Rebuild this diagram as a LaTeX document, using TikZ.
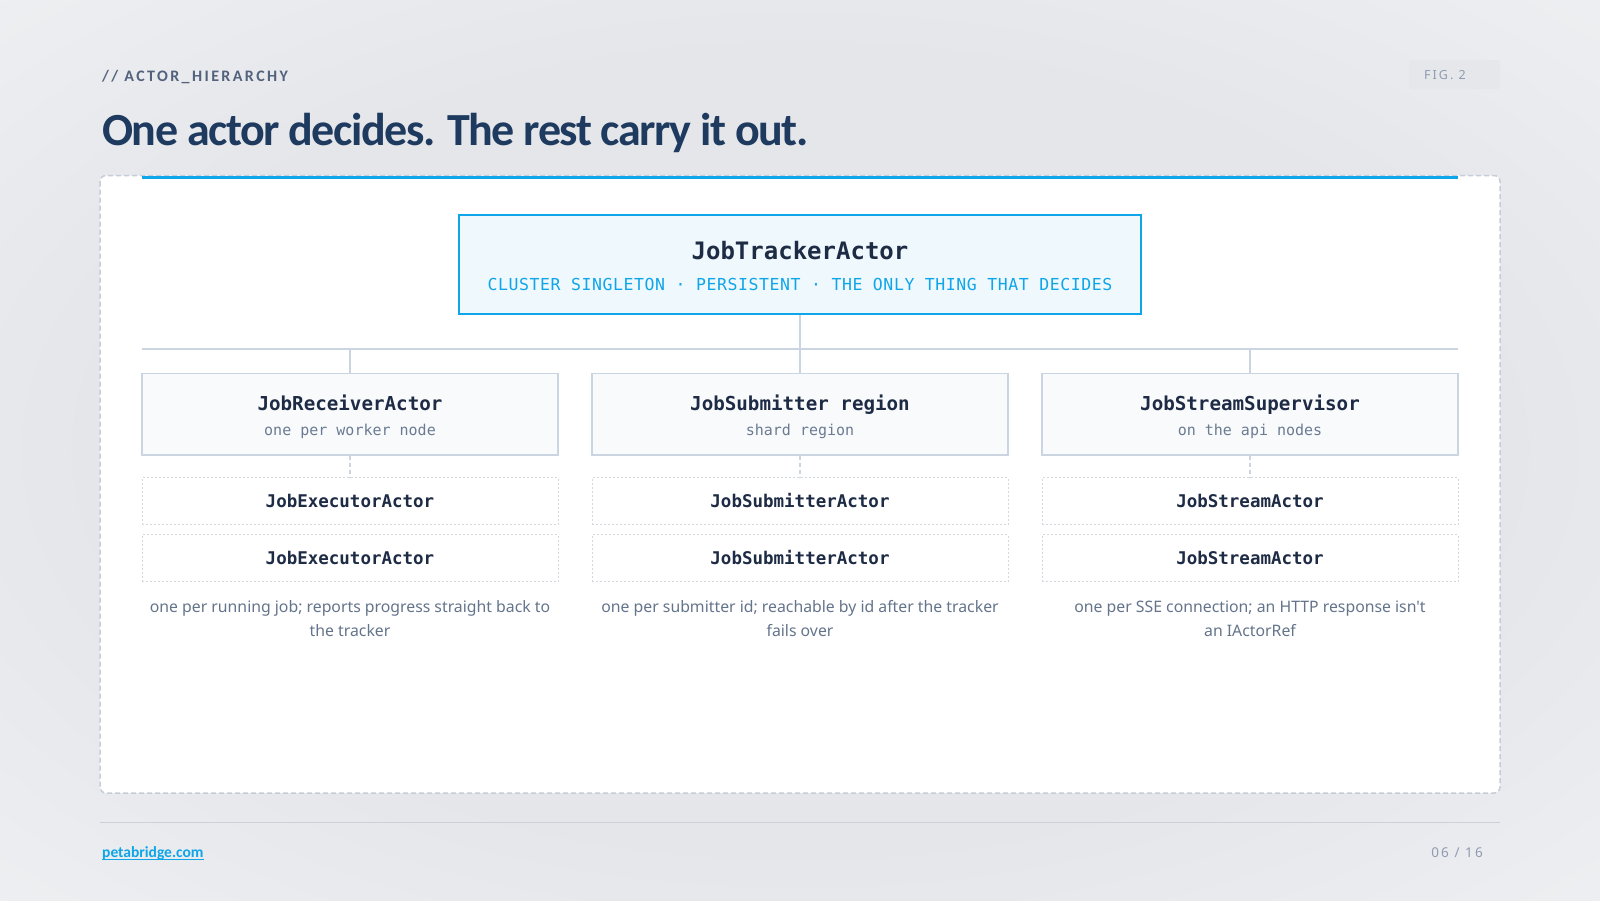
\documentclass[tikz,border=0pt]{standalone}
\usepackage{fontspec}
\setmainfont{Carlito}
\newfontfamily\headfont[LetterSpace=-3.2]{Carlito}
\newfontfamily\kickerfont[LetterSpace=15]{Carlito}
\newfontfamily\codefont{DejaVu Sans Mono}
\newfontfamily\codewide[LetterSpace=3.5]{DejaVu Sans Mono}
\newfontfamily\bodyfont[Ligatures=TeXOff]{Noto Sans}
\newfontfamily\metafont[LetterSpace=16]{Noto Sans}

\definecolor{bgmid}{HTML}{E4E6EA}
\definecolor{bgedge}{HTML}{F8F8F9}
\definecolor{navy}{HTML}{1E3A5F}
\definecolor{ink}{HTML}{1E2B45}
\definecolor{kicker}{HTML}{52627C}
\definecolor{sky}{HTML}{0EA5E9}
\definecolor{trackfill}{HTML}{EEF8FD}
\definecolor{rule}{HTML}{CBD5E1}
\definecolor{childfill}{HTML}{F9FAFB}
\definecolor{leafline}{HTML}{D3D8DF}
\definecolor{muted}{HTML}{6B7B93}
\definecolor{note}{HTML}{64748B}
\definecolor{badge}{HTML}{E5E7EB}
\definecolor{meta}{HTML}{8E9BB0}
\definecolor{panelline}{HTML}{C5CDD8}
\definecolor{footline}{HTML}{CBD0DA}

\pgfdeclareradialshading{slidebg}{\pgfpoint{0bp}{0bp}}{color(0bp)=(bgmid); color(22bp)=(bgmid); color(50bp)=(bgedge); color(72bp)=(bgedge)}

\begin{document}
\begin{tikzpicture}[x=1pt, y=-1pt,
    txt/.style={inner sep=0pt, anchor=base},
    childbox/.style={draw=rule, line width=1.5pt, fill=childfill, minimum width=416pt, minimum height=81.5pt, inner sep=0pt},
    leafbox/.style={draw=leafline, line width=1pt, dash pattern=on 2pt off 2pt, fill=white, minimum width=416pt, minimum height=47pt, inner sep=0pt},
    wire/.style={draw=rule, line width=1.5pt},
    childname/.style={txt, font=\codefont\bfseries\fontsize{19.2}{22}\selectfont, text=ink},
    childrole/.style={txt, font=\codefont\fontsize{15}{18}\selectfont, text=muted},
    leafname/.style={txt, font=\codefont\bfseries\fontsize{17.5}{20}\selectfont, text=ink},
    notetext/.style={txt, font=\bodyfont\fontsize{15.8}{19}\selectfont, text=note},
  ]
  % slide background
  \shade[shading=slidebg] (0,0) rectangle (1600,900);
  \useasboundingbox (0,0) rectangle (1600,900);

  % heading
  \node[txt, anchor=base west, font=\kickerfont\bfseries\fontsize{16}{19}\selectfont, text=kicker] (kicker) at (102,81) {// ACTOR\_HIERARCHY};
  \node[txt, anchor=base west, font=\headfont\bfseries\fontsize{46}{52}\selectfont, text=navy] (headline) at (102,145) {One actor decides. The rest carry it out.};
  \node[fill=badge, rounded corners=3pt, minimum width=91pt, minimum height=29pt, inner sep=0pt] (figbox) at (1454.5,74.5) {};
  \node[txt, anchor=base west, font=\metafont\fontsize{12.5}{14}\selectfont, text=meta] (fig) at (1424,79.5) {FIG. 2};

  % panel
  \draw[panelline, fill=white, line width=1.5pt, dash pattern=on 5pt off 3pt, rounded corners=6pt] (100,175.5) rectangle (1500,793);
  \draw[sky, line width=3pt] (142,177) -- (1458,177);

  % the tracker
  \node[draw=sky, line width=1.5pt, fill=trackfill, minimum width=682pt, minimum height=99pt] (tracker) at (800,264.5) {};
  \node[txt, font=\codefont\bfseries\fontsize{24}{28}\selectfont, text=ink] (trackername) at (800,259.5) {JobTrackerActor};
  \node[txt, font=\codewide\fontsize{16.5}{20}\selectfont, text=sky] (trackerrole) at (800,290.5) {CLUSTER SINGLETON · PERSISTENT · THE ONLY THING THAT DECIDES};

  % bus
  \coordinate (busL) at (142,349);
  \coordinate (busR) at (1458,349);
  \draw[wire] (busL) -- (busR);
  \draw[wire] (tracker.south) -- (tracker.south |- busL);

  % receiver column
  \node[childbox] (receiver) at (350,414.25) {};
  \node[childname] (receivername) at (350,410.5) {JobReceiverActor};
  \node[childrole] (receiverrole) at (350,435) {one per worker node};
  \node[leafbox] (exec1) at (350,501) {};
  \node[leafbox] (exec2) at (350,558) {};
  \node[leafname] (exec1name) at (350,507) {JobExecutorActor};
  \node[leafname] (exec2name) at (350,564) {JobExecutorActor};
  \node[notetext] (receivernote1) at (350,612.5) {one per running job; reports progress straight back to};
  \node[notetext] (receivernote2) at (350,636.5) {the tracker};

  % submitter column
  \node[childbox] (submitter) at (800,414.25) {};
  \node[childname] (submittername) at (800,410.5) {JobSubmitter region};
  \node[childrole] (submitterrole) at (800,435) {shard region};
  \node[leafbox] (sub1) at (800,501) {};
  \node[leafbox] (sub2) at (800,558) {};
  \node[leafname] (sub1name) at (800,507) {JobSubmitterActor};
  \node[leafname] (sub2name) at (800,564) {JobSubmitterActor};
  \node[notetext] (submitternote1) at (800,612.5) {one per submitter id; reachable by id after the tracker};
  \node[notetext] (submitternote2) at (800,636.5) {fails over};

  % stream column
  \node[childbox] (streamsup) at (1250,414.25) {};
  \node[childname] (streamsupname) at (1250,410.5) {JobStreamSupervisor};
  \node[childrole] (streamsuprole) at (1250,435) {on the api nodes};
  \node[leafbox] (stream1) at (1250,501) {};
  \node[leafbox] (stream2) at (1250,558) {};
  \node[leafname] (stream1name) at (1250,507) {JobStreamActor};
  \node[leafname] (stream2name) at (1250,564) {JobStreamActor};
  \node[notetext] (streamnote1) at (1250,612.5) {one per SSE connection; an HTTP response isn't};
  \node[notetext] (streamnote2) at (1250,636.5) {an IActorRef};

  % links
  \draw[wire] (receiver.north) -- (receiver.north |- busL);
  \draw[wire] (submitter.north) -- (submitter.north |- busL);
  \draw[wire] (streamsup.north) -- (streamsup.north |- busL);
  \draw[wire, dash pattern=on 4pt off 3pt] (receiver.south) -- (exec1.north);
  \draw[wire, dash pattern=on 4pt off 3pt] (submitter.south) -- (sub1.north);
  \draw[wire, dash pattern=on 4pt off 3pt] (streamsup.south) -- (stream1.north);

  % footer
  \draw[footline, line width=1.2pt] (100,822.5) -- (1500,822.5);
  \node[txt, anchor=base west, font=\bfseries\fontsize{15.5}{18}\selectfont, text=sky] (site) at (102,857) {petabridge.com};
  \draw[sky, line width=1pt] ([yshift=-2pt]site.base west) -- ([yshift=-2pt]site.base east);
  \node[txt, anchor=base east, font=\metafont\fontsize{13.5}{15}\selectfont, text=meta] (page) at (1483,857) {06 / 16};
\end{tikzpicture}
\end{document}
